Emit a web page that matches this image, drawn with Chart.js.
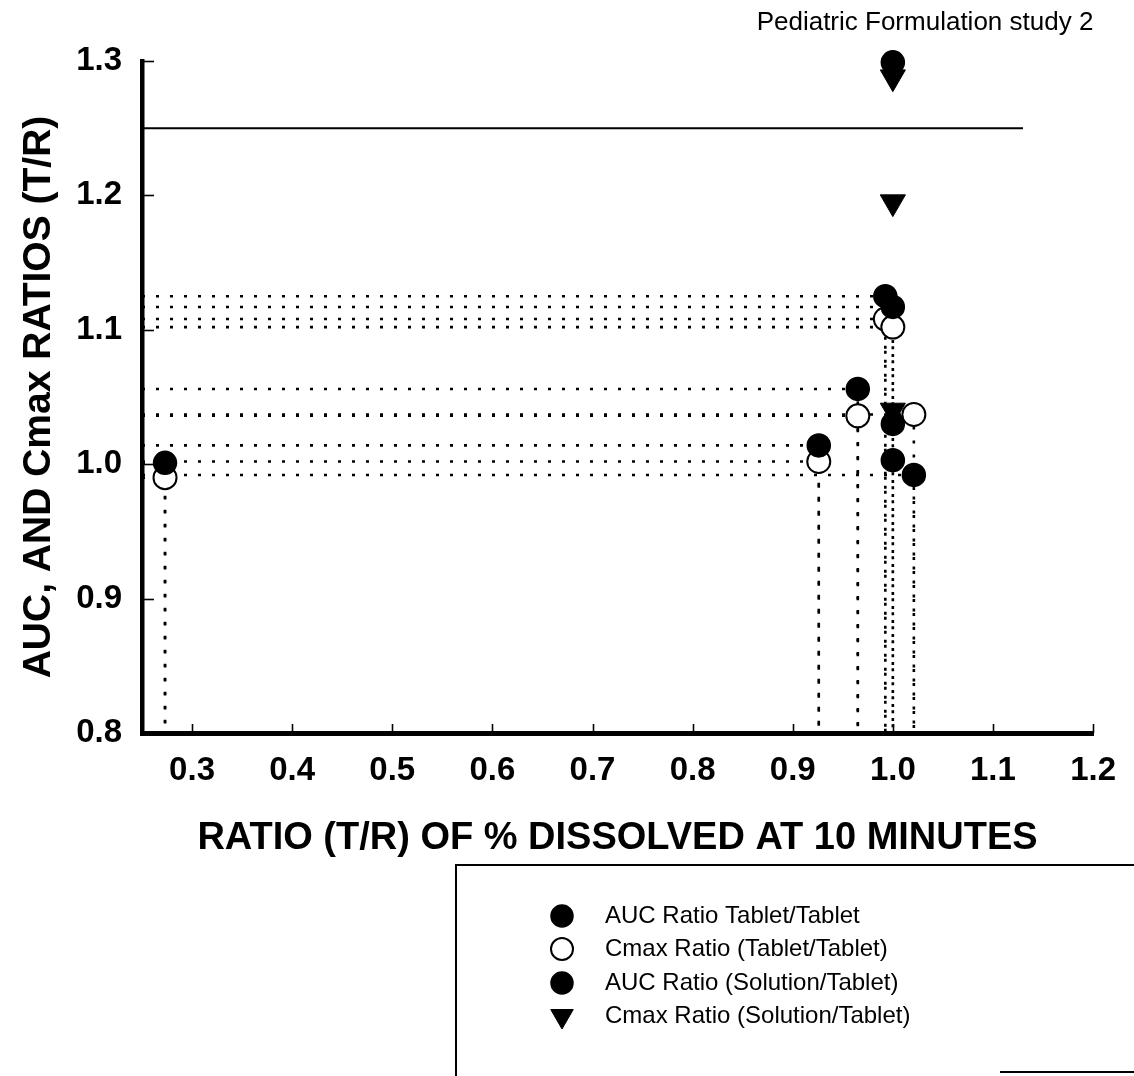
<!DOCTYPE html>
<html>
<head>
<meta charset="utf-8">
<script src="https://cdn.jsdelivr.net/npm/chart.js@4.4.1/dist/chart.umd.min.js"></script>
<style>
html,body{margin:0;padding:0;background:#fff;}
#wrap{width:1134px;height:1076px;position:relative;}
</style>
</head>
<body>
<div id="wrap"><canvas id="c" width="1134" height="1076"></canvas></div>
<script>
// ---- data ----
const xRange = [0.25, 1.2];
const yRange = [0.8, 1.3];
const xTickValues = [0.3, 0.4, 0.5, 0.6, 0.7, 0.8, 0.9, 1.0, 1.1, 1.2];
const yTickValues = [0.8, 0.9, 1.0, 1.1, 1.2, 1.3];

const aucTabletX  = [0.273, 0.926, 0.965, 0.9925, 1.0, 1.021];
const aucTabletY  = [1.001, 1.014, 1.056, 1.125, 1.117, 0.992];
const cmaxTabletX = [0.273, 0.926, 0.965, 0.9925, 1.0, 1.021];
const cmaxTabletY = [0.990, 1.002, 1.036, 1.108, 1.102, 1.037];
const aucSolutionX  = [1.0, 1.0, 1.0];
const aucSolutionY  = [1.299, 1.030, 1.003];
const cmaxSolutionX = [1.0, 1.0, 1.0];
const cmaxSolutionY = [1.288, 1.195, 1.040];

const limitX = [0.25, 1.13];
const limitY = [1.25, 1.25];

const seriesLabels = [
  'AUC Ratio Tablet/Tablet',
  'Cmax Ratio (Tablet/Tablet)',
  'AUC Ratio (Solution/Tablet)',
  'Cmax Ratio (Solution/Tablet)'
];
const chartTitle = 'Pediatric Formulation study 2';
const xTitle = 'RATIO (T/R) OF % DISSOLVED AT 10 MINUTES';
const yTitle = 'AUC, AND Cmax RATIOS (T/R)';

// ---- build datasets ----
const pts = (xs, ys) => xs.map((x, i) => ({x: x, y: ys[i]}));

const markerSets = [
  {label: seriesLabels[0], data: pts(aucTabletX, aucTabletY), pointStyle: 'circle', pointRadius: 11.5,
   pointBackgroundColor: '#000', pointBorderColor: '#000', pointBorderWidth: 1.5, order: 1},
  {label: seriesLabels[1], data: pts(cmaxTabletX, cmaxTabletY), pointStyle: 'circle', pointRadius: 11.5,
   pointBackgroundColor: '#fff', pointBorderColor: '#000', pointBorderWidth: 2, order: 2},
  {label: seriesLabels[2], data: pts(aucSolutionX, aucSolutionY), pointStyle: 'circle', pointRadius: 11.5,
   pointBackgroundColor: '#000', pointBorderColor: '#000', pointBorderWidth: 1.5, order: 1},
  {label: seriesLabels[3], data: pts(cmaxSolutionX, cmaxSolutionY), pointStyle: 'triangle', pointRadius: 14.5,
   pointRotation: 180, pointBackgroundColor: '#000', pointBorderColor: '#000', pointBorderWidth: 1, order: 3}
];
markerSets.forEach(d => { d.showLine = false; d.clip = false; });

const dropSets = [];
[[aucTabletX, aucTabletY], [cmaxTabletX, cmaxTabletY]].forEach(([xs, ys]) => {
  xs.forEach((x, i) => {
    dropSets.push({
      label: '_drop',
      data: [{x: xRange[0], y: ys[i]}, {x: x, y: ys[i]}, {x: x, y: yRange[0]}],
      showLine: true, pointRadius: 0, borderColor: '#000', borderWidth: 2.6,
      borderDash: [3, 11], borderCapStyle: 'butt', fill: false, order: 6, clip: false
    });
  });
});

const limitSet = {
  label: '_limit', data: pts(limitX, limitY), showLine: true, pointRadius: 0,
  borderColor: '#000', borderWidth: 2, fill: false, order: 6
};

// ---- plugin: inward tick marks, title text, legend box ----
const decor = {
  id: 'decor',
  afterDraw(chart) {
    const ctx = chart.ctx;
    const xs = chart.scales.x, ys = chart.scales.y;
    const area = chart.chartArea;
    ctx.save();
    ctx.strokeStyle = '#000';
    ctx.lineWidth = 1.6;
    xTickValues.forEach(v => {
      const px = Math.round(xs.getPixelForValue(v)) + 0.5;
      ctx.beginPath(); ctx.moveTo(px, area.bottom); ctx.lineTo(px, area.bottom - 9); ctx.stroke();
    });
    yTickValues.forEach(v => {
      const py = Math.round(ys.getPixelForValue(v)) + 0.5;
      ctx.beginPath(); ctx.moveTo(area.left, py); ctx.lineTo(area.left + 12, py); ctx.stroke();
    });

    // title
    ctx.fillStyle = '#000';
    ctx.font = '26px "Liberation Sans", Arial, sans-serif';
    ctx.textAlign = 'center';
    ctx.textBaseline = 'alphabetic';
    ctx.fillText(chartTitle, 925, 30);

    // legend frame
    ctx.lineWidth = 2;
    ctx.beginPath();
    ctx.moveTo(456, 1076); ctx.lineTo(456, 865); ctx.lineTo(1134, 865);
    ctx.stroke();
    ctx.beginPath();
    ctx.moveTo(1000, 1072); ctx.lineTo(1134, 1072);
    ctx.stroke();

    // legend items
    const rows = [916, 949, 983, 1016];
    ctx.font = '24px "Liberation Sans", Arial, sans-serif';
    ctx.textAlign = 'left';
    ctx.textBaseline = 'middle';
    markerSets.forEach((d, i) => {
      ctx.fillStyle = d.pointBackgroundColor;
      ctx.strokeStyle = d.pointBorderColor;
      ctx.lineWidth = d.pointBorderWidth;
      Chart.helpers.drawPoint(ctx, {
        pointStyle: d.pointStyle,
        radius: d.pointStyle === 'triangle' ? 13 : 11,
        rotation: d.pointRotation || 0,
        borderWidth: d.pointBorderWidth
      }, 562, rows[i]);
      ctx.fillStyle = '#000';
      ctx.fillText(d.label, 605, rows[i]);
    });
    ctx.restore();
  }
};

const tickFont = {family: '"Liberation Sans", Arial, sans-serif', weight: 'bold', size: 33};
const xTitleFont = {family: '"Liberation Sans", Arial, sans-serif', weight: 'bold', size: 38};
const yTitleFont = {family: '"Liberation Sans", Arial, sans-serif', weight: 'bold', size: 39};

new Chart(document.getElementById('c'), {
  type: 'scatter',
  data: {datasets: [...markerSets, ...dropSets, limitSet]},
  options: {
    responsive: false,
    devicePixelRatio: 1,
    animation: false,
    events: [],
    layout: {padding: {left: 0, right: 33, top: 61, bottom: 203}},
    plugins: {legend: {display: false}, tooltip: {enabled: false}, title: {display: false}},
    scales: {
      x: {
        type: 'linear', position: 'bottom', min: xRange[0], max: xRange[1],
        afterBuildTicks: s => { s.ticks = xTickValues.map(v => ({value: v})); },
        afterFit: s => { s.height = 140; },
        grid: {display: true, drawOnChartArea: false, drawTicks: false},
        border: {display: true, color: '#000', width: 5},
        ticks: {color: '#000', font: tickFont, padding: 18, maxRotation: 0, autoSkip: false,
                callback: v => Number(v).toFixed(1)},
        title: {display: true, text: xTitle, color: '#000', font: xTitleFont, padding: {top: 0, bottom: 12}}
      },
      y: {
        type: 'linear', position: 'left', min: yRange[0], max: yRange[1],
        afterBuildTicks: s => { s.ticks = yTickValues.map(v => ({value: v})); },
        afterFit: s => { s.width = 142; },
        grid: {display: true, drawOnChartArea: false, drawTicks: false},
        border: {display: true, color: '#000', width: 4.5},
        ticks: {color: '#000', font: tickFont, padding: 20, autoSkip: false,
                callback: v => Number(v).toFixed(1)},
        title: {display: true, text: yTitle, color: '#000', font: yTitleFont, padding: {top: 16, bottom: 0}}
      }
    }
  },
  plugins: [decor]
});
</script>
</body>
</html>
